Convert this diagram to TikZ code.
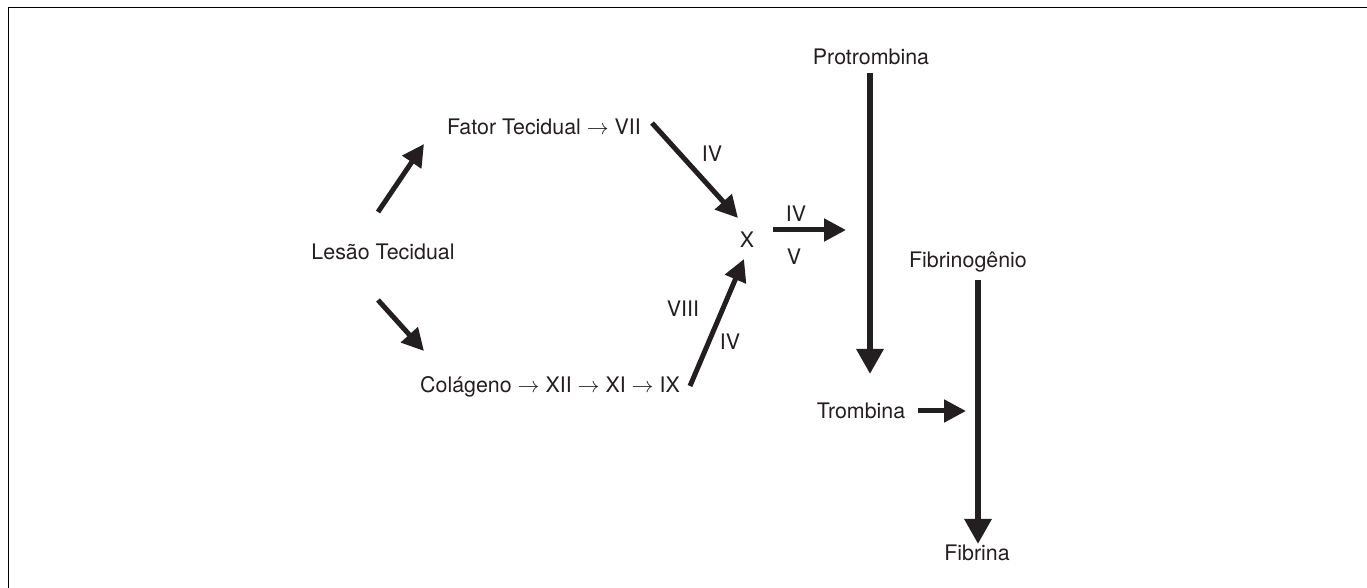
\documentclass[tikz,border=0pt]{standalone}
\usepackage{fontspec}
\setmainfont{TeX Gyre Heros}
\usetikzlibrary{arrows.meta}
\definecolor{ink}{HTML}{231F20}
\tikzset{
  lbl/.style={anchor=base, inner sep=0pt, font=\fontsize{10.7}{12}\selectfont, text=ink},
  seta/.style={draw=ink, line width=2.5pt, -{Triangle[length=11pt,width=11pt]}},
  setav/.style={seta, line width=3pt, -{Triangle[length=12.5pt,width=13pt]}}
}
\begin{document}
\begin{tikzpicture}[x=0.5pt, y=-0.5pt]
		\useasboundingbox (0,0) rectangle (1367,588);
		\draw[line width=0.9pt] (8.5,588) -- (8.5,7.5) -- (1367,7.5);

		% via extrinseca e intrinseca
		\node[lbl] (lesao) at (383,260) {Lesão Tecidual};
		\node[lbl] (fator) at (544,135) {Fator Tecidual $\rightarrow$ VII};
		\node[lbl] (colag) at (550,393) {Colágeno $\rightarrow$ XII $\rightarrow$ XI $\rightarrow$ IX};
		\node[lbl] (x) at (747,248) {X};

		\coordinate (l1) at (378,212); \coordinate (f1) at (424,144);
		\coordinate (l2) at (378,300); \coordinate (c1) at (424,351);
		\coordinate (f2) at (652,123); \coordinate (x1) at (738,218);
		\coordinate (c2) at (690,386); \coordinate (x2) at (744,259);
		\draw[seta] (l1) -- (f1);
		\draw[seta] (l2) -- (c1);
		\draw[seta] (f2) -- (x1);
		\draw[seta] (c2) -- (x2);
		\node[lbl] (iv1) at (712,162) {IV};
		\node[lbl] (viii) at (683,317) {VIII};
		\node[lbl] (iv2) at (730,350) {IV};

		% via comum
		\node[lbl] (protr) at (871,65) {Protrombina};
		\node[lbl] (tromb) at (861,419) {Trombina};
		\node[lbl] (fibrg) at (968,268) {Fibrinogênio};
		\node[lbl] (fibrn) at (977,560) {Fibrina};

		\coordinate (xa) at (773,230); \coordinate (xb) at (846,230);
		\draw[seta] (xa) -- (xb);
		\node[lbl] (iv3) at (796,222) {IV};
		\node[lbl] (v) at (794,265) {V};

		\draw[setav] (870,73) coordinate (p1) -- (870,374) coordinate (p2);
		\draw[seta] (918,411) coordinate (t1) -- (966,411) coordinate (t2);
		\draw[setav] (978,280) coordinate (g1) -- (978,544) coordinate (g2);
	\end{tikzpicture}
\end{document}
